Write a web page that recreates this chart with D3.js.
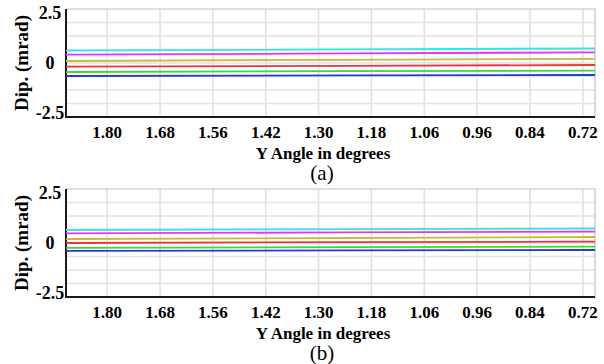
<!DOCTYPE html>
<html>
<head>
<meta charset="utf-8">
<script src="https://cdn.jsdelivr.net/npm/d3@7"></script>
<style>
  body { margin: 0; background: #fff; }
  svg text { font-family: 'Liberation Serif', 'Times New Roman', 'DejaVu Serif Condensed', 'DejaVu Serif', serif; }
</style>
</head>
<body>
<svg id="chart" width="604" height="364"></svg>
<script>
// tick labels on the x axis (one per sample)
const xTicks = ['1.80', '1.68', '1.56', '1.42', '1.30', '1.18', '1.06', '0.96', '0.84', '0.72']
const yTicks = [2.5, 0, -2.5]
// sample index where each value was read (start, middle, end of trace)
const sampleIdx = [-0.78, 4.5, 9.23]
const seriesNames = ['cyan', 'magenta', 'olive', 'red', 'green', 'blue']
const seriesColors = ['#2ee6ee', '#f030f0', '#c4bc3c', '#f03434', '#30e030', '#2a36d8']

// panel (a)
const cyanA = [0.62, 0.68, 0.73]
const magentaA = [0.42, 0.48, 0.53]
const oliveA = [0.10, 0.16, 0.21]
const redA = [-0.18, -0.14, -0.10]
const greenA = [-0.45, -0.41, -0.38]
const blueA = [-0.65, -0.62, -0.60]

// panel (b)
const cyanB = [0.65, 0.69, 0.73]
const magentaB = [0.48, 0.53, 0.57]
const oliveB = [0.20, 0.25, 0.30]
const redB = [0.00, 0.04, 0.07]
const greenB = [-0.24, -0.21, -0.18]
const blueB = [-0.39, -0.37, -0.35]

const svg = d3.select('#chart')

function drawPanel (top, series, caption) {
  const left = 66, right = 595, h = 108
  const x = d3.scaleLinear().domain([-0.78, 9.23]).range([left, right])
  const y = d3.scaleLinear().domain([-2.7, 2.7]).range([top + h, top])

  const g = svg.append('g')

  // horizontal grid
  g.selectAll('.hg')
    .data(d3.range(1, 8).map(i => -2.7 + i * 5.4 / 8))
    .enter().append('line')
    .attr('x1', left).attr('x2', right)
    .attr('y1', d => y(d)).attr('y2', d => y(d))
    .attr('stroke', '#e2e2e2').attr('stroke-width', 1.6)

  // vertical grid
  g.selectAll('.vg')
    .data(xTicks.map((t, i) => i))
    .enter().append('line')
    .attr('x1', d => x(d)).attr('x2', d => x(d))
    .attr('y1', top).attr('y2', top + h)
    .attr('stroke', '#e2e2e2').attr('stroke-width', 1.6)

  // frame: light top/right, dark left/bottom
  g.append('path')
    .attr('d', `M${left},${top}H${right}V${top + h}`)
    .attr('fill', 'none').attr('stroke', '#c0c0c0').attr('stroke-width', 1.2)
  g.append('path')
    .attr('d', `M${left},${top}V${top + h}H${right}`)
    .attr('fill', 'none').attr('stroke', '#1a1a1a').attr('stroke-width', 2)

  // traces
  const line = d3.line()
    .x((d, i) => x(sampleIdx[i]))
    .y(d => y(d))
  series.forEach((vals, k) => {
    g.append('path')
      .datum(vals)
      .attr('d', line)
      .attr('fill', 'none')
      .attr('stroke', seriesColors[k])
      .attr('stroke-width', 1.8)
  })

  // y tick labels
  g.selectAll('.yt')
    .data(yTicks)
    .enter().append('text')
    .attr('x', 50)
    .attr('y', d => y(d) + 6)
    .attr('text-anchor', 'middle')
    .style('font-size', '18px').style('font-weight', 'bold')
    .text(d => d)

  // y title
  g.append('text')
    .attr('transform', `translate(28,${top + h / 2}) rotate(-90)`)
    .attr('text-anchor', 'middle')
    .style('font-size', '19px').style('font-weight', 'bold')
    .text('Dip. (mrad)')

  // x tick labels
  g.selectAll('.xt')
    .data(xTicks)
    .enter().append('text')
    .attr('x', (d, i) => x(i))
    .attr('y', top + h + 21)
    .attr('text-anchor', 'middle')
    .style('font-size', '17px').style('font-weight', 'bold')
    .text(d => d)

  // x title
  g.append('text')
    .attr('x', 323).attr('y', top + h + 42)
    .attr('text-anchor', 'middle')
    .style('font-size', '17px').style('font-weight', 'bold')
    .text('Y Angle in degrees')

  // caption
  g.append('text')
    .attr('x', 322).attr('y', top + h + 63)
    .attr('text-anchor', 'middle')
    .style('font-size', '21px')
    .text(caption)
}

drawPanel(9, [cyanA, magentaA, oliveA, redA, greenA, blueA], '(a)')
drawPanel(189, [cyanB, magentaB, oliveB, redB, greenB, blueB], '(b)')
</script>
</body>
</html>
